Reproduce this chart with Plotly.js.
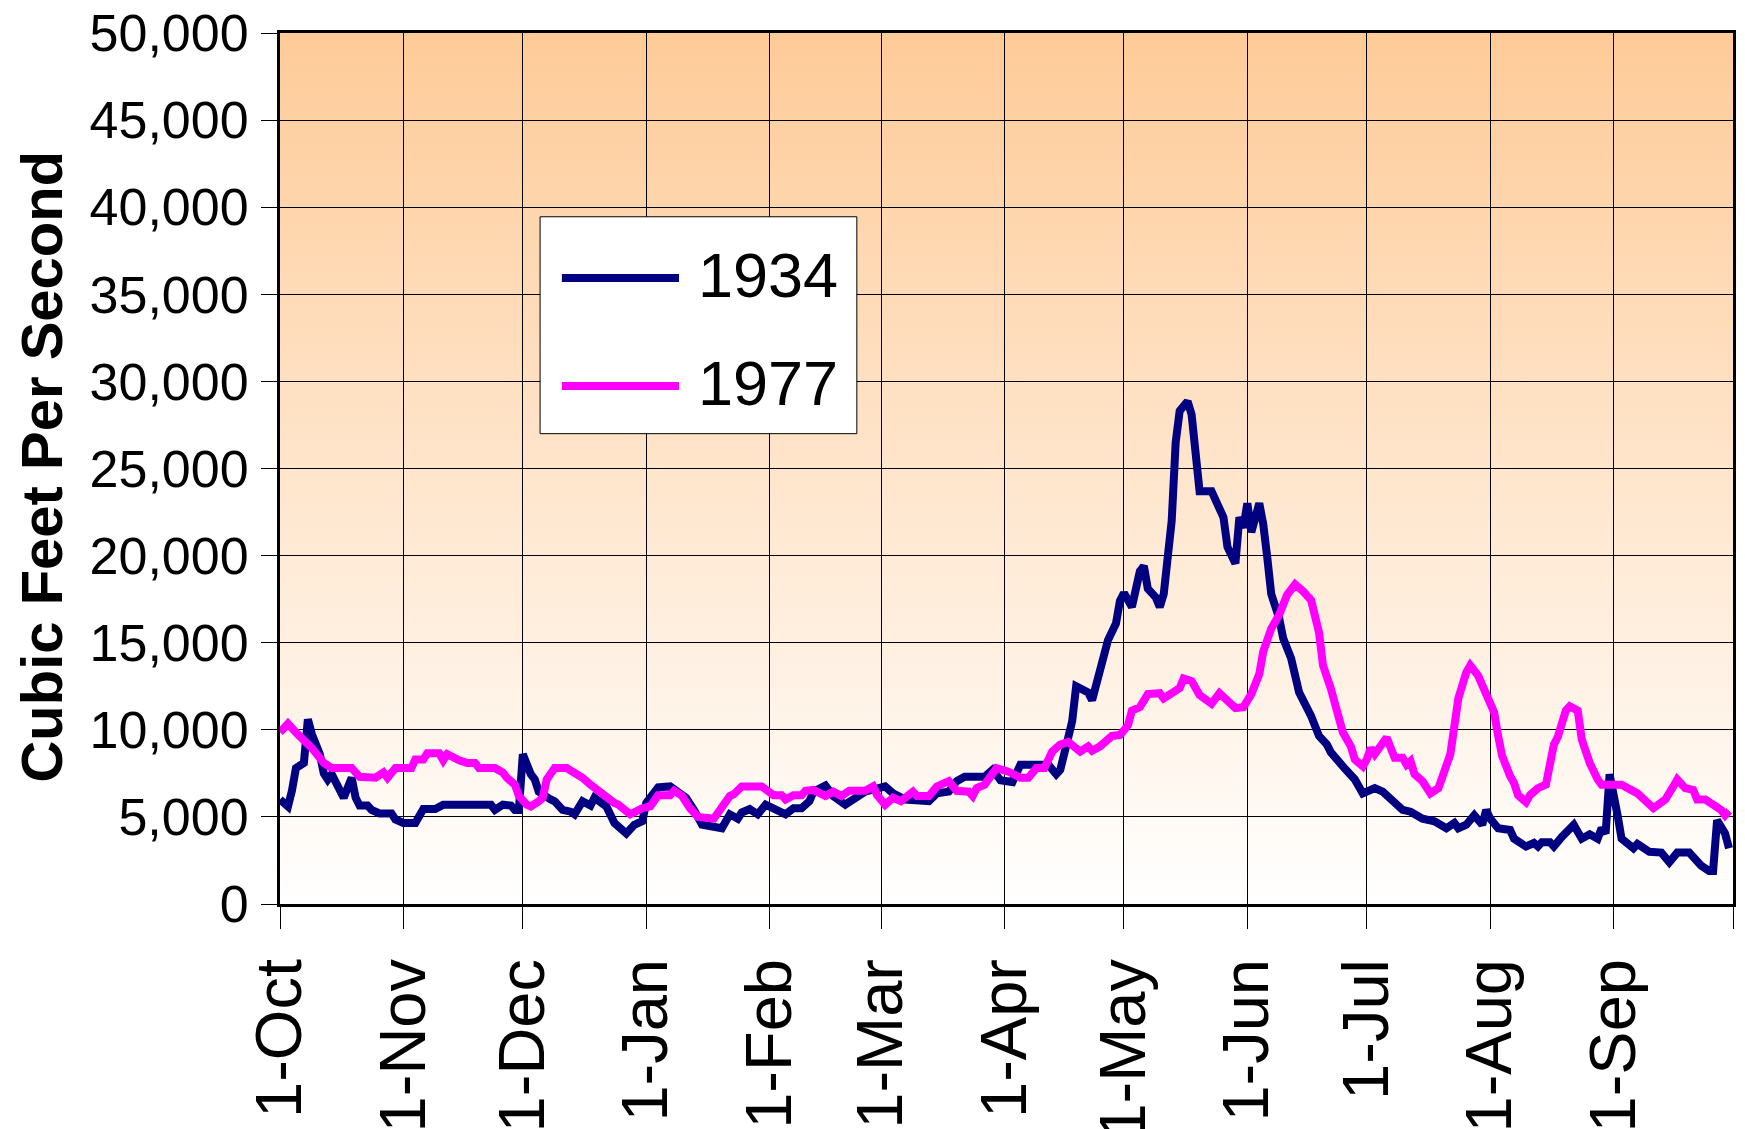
<!DOCTYPE html>
<html>
<head>
<meta charset="utf-8">
<script src="https://cdn.plot.ly/plotly-3.0.1.min.js"></script>
<style>html,body{margin:0;padding:0;background:#fff;}#chart{width:1745px;height:1129px;}</style>
</head>
<body>
<div id="chart"></div>
<script>
// ---- DATA (day of water year, starting 1-Oct = 0) ----
const monthTicks  = [0, 31, 61, 92, 123, 151, 182, 212, 243, 273, 304, 335, 365];
const monthLabels = ['1-Oct','1-Nov','1-Dec','1-Jan','1-Feb','1-Mar','1-Apr','1-May','1-Jun','1-Jul','1-Aug','1-Sep',''];
const yTitle = 'Cubic Feet Per Second';

const seriesNames  = ['1934', '1977'];
const seriesColors = ['#000080', '#FF00FF'];

const days1934 = [0,2,3,4,6,7,8,10,11,12,13,15,16,18,19,20,22,23,25,28,29,31,34,36,39,41,53,54,56,58,59,60,61,63,64,65,66,68,69,71,73,74,76,78,79,81,82,84,85,87,89,91,92,95,98,101,102,104,106,111,113,115,116,118,120,122,124,125,127,129,131,133,134,137,139,142,145,147,152,154,157,161,163,165,168,170,172,177,179,181,184,186,193,195,196,198,199,200,203,204,206,208,210,211,212,214,216,217,218,220,221,222,224,225,226,228,229,231,234,237,238,240,241,242,243,244,246,247,248,249,251,252,254,256,259,261,263,264,267,270,272,275,277,280,282,284,287,290,293,295,296,298,300,302,303,304,306,309,310,313,315,316,317,319,320,322,323,325,327,329,331,332,333,334,336,337,340,341,344,347,349,351,354,357,359,360,361,363,364];
const flow1934 = [6000,5600,6500,7800,8100,10600,9750,8600,7500,7150,7450,6400,6100,7250,6100,5650,5650,5400,5200,5200,4850,4650,4650,5450,5450,5700,5700,5400,5700,5650,5400,5400,8600,7450,7150,6450,6250,6000,5900,5400,5300,5150,5900,5650,6100,5850,5600,4650,4450,4050,4550,4750,5800,6700,6750,6300,6100,5400,4550,4350,5150,4900,5250,5450,5150,5700,5450,5300,5150,5500,5500,5900,6450,6800,6200,5700,6200,6450,6750,6350,6000,5900,5900,6350,6450,7050,7300,7300,7700,7100,7000,8000,8000,7450,7700,9550,10500,12500,12150,11700,13500,15150,16100,17400,17850,17050,19100,19400,18100,17600,17050,17800,22000,26500,28300,28850,28100,23700,23700,22200,20500,19550,22200,21600,23000,21350,23000,21800,19900,17800,16400,15250,14100,12150,10800,9650,9150,8700,7900,7150,6350,6650,6450,5900,5400,5300,4900,4750,4350,4650,4350,4550,5100,4550,5400,4900,4350,4250,3750,3300,3500,3300,3550,3550,3300,3850,4050,4550,3750,4000,3750,4350,4050,7450,5100,3750,3200,3450,3000,2950,2400,2950,2950,2200,1900,1900,4800,4050,3200];

const days1977 = [0,2,4,8,11,13,18,20,24,26,27,29,33,34,36,37,40,41,42,44,45,47,49,50,54,56,57,59,60,62,63,65,66,67,69,72,74,76,78,80,82,84,85,88,91,93,95,98,99,101,103,105,109,111,113,114,116,121,124,126,127,129,131,132,134,137,139,141,143,147,149,150,152,154,156,159,160,163,165,168,170,173,174,175,177,180,182,183,186,188,190,192,194,196,198,201,203,204,206,209,211,213,214,216,218,221,222,224,226,227,229,231,232,234,236,238,240,242,244,246,247,249,251,253,255,257,259,261,262,264,266,267,269,270,272,273,274,275,278,280,282,283,284,285,287,288,289,291,292,293,294,295,296,298,299,301,303,305,306,307,309,310,311,313,314,316,318,319,320,321,322,323,324,326,327,329,331,332,337,339,341,345,347,348,350,351,353,355,356,358,360,362,363,364];
const flow1977 = [9850,10350,9850,8950,8100,7800,7800,7300,7250,7550,7250,7800,7800,8300,8300,8650,8650,8250,8600,8300,8250,8100,8100,7800,7800,7550,7250,6850,6200,5700,5600,5900,6100,7150,7800,7800,7550,7250,6850,6450,6200,5800,5700,5150,5500,5600,6250,6250,6500,6200,5500,5000,4900,5500,6200,6300,6750,6750,6250,6250,6000,6250,6250,6500,6550,6200,6450,6200,6500,6500,6750,6250,5700,6100,5900,6450,6200,6200,6750,7050,6500,6450,6200,6650,6850,7800,7700,7600,7250,7250,7800,7800,8750,9150,9300,8750,9050,8800,9050,9650,9700,10250,11100,11300,12050,12100,11800,12100,12400,12950,12800,12000,11850,11500,12100,11700,11250,11300,12050,13200,14500,15800,16600,17750,18350,17950,17450,15600,13700,12350,10600,9850,9050,8300,7900,8300,8950,8600,9550,8400,8400,8000,8200,7450,7050,6650,6350,6650,7300,7900,8600,10200,11800,13300,13700,13100,11950,11000,9650,8500,7350,6950,6250,5850,6250,6650,6850,8000,9150,9600,10450,11100,11350,11100,9450,8100,7150,6850,6850,6600,6350,5500,5800,6000,6750,7150,6650,6550,6000,6000,5700,5400,5100,5350];

const yMax = 50000, yStep = 5000;

// ---- background gradient for plot area ----
const gradSvg = "<svg xmlns='http://www.w3.org/2000/svg' width='10' height='200' preserveAspectRatio='none'>" +
  "<defs><linearGradient id='g' x1='0' y1='0' x2='0' y2='1'>" +
  "<stop offset='0' stop-color='#FECB98'/><stop offset='1' stop-color='#FFFFFF'/>" +
  "</linearGradient></defs><rect width='10' height='200' fill='url(#g)'/></svg>";
const gradUri = 'data:image/svg+xml;charset=utf-8,' + encodeURIComponent(gradSvg);

const FONT = 'Liberation Sans, Arial, Helvetica, sans-serif';

const traces = [
  {x: days1934, y: flow1934, name: seriesNames[0], type: 'scatter', mode: 'lines',
   line: {color: seriesColors[0], width: 8, shape: 'linear'}},
  {x: days1977, y: flow1977, name: seriesNames[1], type: 'scatter', mode: 'lines',
   line: {color: seriesColors[1], width: 8, shape: 'linear'}}
];

// custom legend (box + long line samples)
const legendRows = [0.7187, 0.5947];
const shapes = [
  {type: 'rect', xref: 'paper', yref: 'paper', x0: 0.179, x1: 0.397, y0: 0.540, y1: 0.789,
   fillcolor: '#FFFFFF', line: {color: '#000000', width: 1}}
];
const annotations = [
  {xref: 'paper', yref: 'paper', x: -0.1648, y: 0.5017, xanchor: 'center', yanchor: 'middle',
   textangle: -90, showarrow: false, text: yTitle,
   font: {family: FONT, size: 58, color: '#000', weight: 'bold'}}
];
seriesNames.forEach((n, i) => {
  shapes.push({type: 'line', xref: 'paper', yref: 'paper', x0: 0.194, x1: 0.2746,
    y0: legendRows[i], y1: legendRows[i], line: {color: seriesColors[i], width: 8}});
  annotations.push({xref: 'paper', yref: 'paper', x: 0.2866, y: legendRows[i] + 0.003,
    xanchor: 'left', yanchor: 'middle', showarrow: false, text: n,
    font: {family: FONT, size: 63, color: '#000'}});
});

const layout = {
  width: 1745, height: 1129,
  margin: {l: 280, r: 12, t: 33, b: 225, pad: 0},
  paper_bgcolor: '#FFFFFF',
  plot_bgcolor: 'rgba(0,0,0,0)',
  showlegend: false,
  images: [{source: gradUri, xref: 'paper', yref: 'paper', x: 0, y: 1, sizex: 1, sizey: 1,
            xanchor: 'left', yanchor: 'top', sizing: 'stretch', layer: 'below'}],
  xaxis: {
    range: [0, 365], tickmode: 'array', tickvals: monthTicks, ticktext: monthLabels,
    tickangle: -90, ticks: 'outside', ticklen: 22, tickwidth: 1, tickcolor: '#000',
    showgrid: true, gridcolor: '#000', gridwidth: 1, zeroline: false,
    showline: true, linecolor: '#000', linewidth: 3, mirror: true,
    tickfont: {family: FONT, size: 65, color: '#000'}, ticklabelstandoff: 4
  },
  yaxis: {
    range: [0, yMax], dtick: yStep, tick0: 0, tickformat: ',d',
    ticks: 'outside', ticklen: 16, tickwidth: 1, tickcolor: '#000',
    showgrid: true, gridcolor: '#000', gridwidth: 1, zeroline: false,
    showline: true, linecolor: '#000', linewidth: 3, mirror: true,
    tickfont: {family: FONT, size: 52, color: '#000'}, ticklabelstandoff: 2
  },
  shapes: shapes,
  annotations: annotations
};

Plotly.newPlot('chart', traces, layout, {displayModeBar: false, responsive: false});
</script>
</body>
</html>
